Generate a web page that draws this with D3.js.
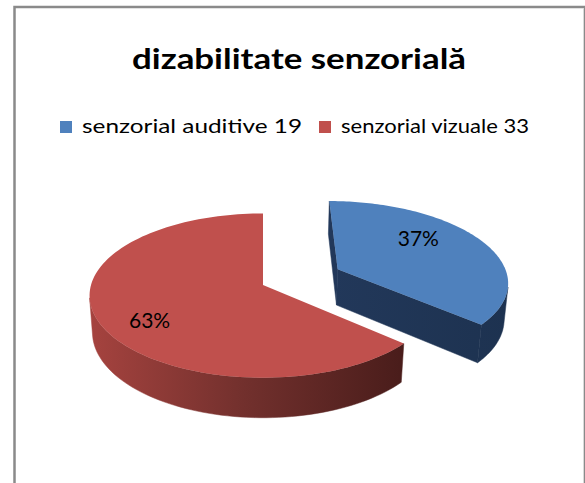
<!DOCTYPE html>
<html>
<head>
<meta charset="utf-8">
<script src="https://cdn.jsdelivr.net/npm/d3@7"></script>
<style>
  html, body { margin: 0; padding: 0; background: #fff; }
  svg { display: block; }
  text { font-family: Lato, "Open Sans", sans-serif; }
</style>
</head>
<body>
<div id="chart"></div>
<script>
// chart data
const title = "dizabilitate senzorială";
const categories = ["senzorial auditive", "senzorial vizuale"];
const values = [19, 33];
const explodeFlags = [true, false];

const colorsTop = ["#4F81BD", "#C0504D"];

const width = 585;
const height = 483;

const svg = d3
	.select("#chart")
	.append("svg")
	.attr("width", width)
	.attr("height", height);

const defs = svg.append("defs");

// red side gradient, light at the left to dark at the right
const redSide = defs
	.append("linearGradient")
	.attr("id", "side1")
	.attr("gradientUnits", "userSpaceOnUse")
	.attr("x1", 88)
	.attr("x2", 400)
	.attr("y1", 0)
	.attr("y2", 0);
redSide.append("stop").attr("offset", 0).attr("stop-color", "#A6433F");
redSide.append("stop").attr("offset", 0.5).attr("stop-color", "#72302D");
redSide.append("stop").attr("offset", 1).attr("stop-color", "#4A1D1B");

const blueSide = defs
	.append("linearGradient")
	.attr("id", "side0")
	.attr("gradientUnits", "userSpaceOnUse")
	.attr("x1", 330)
	.attr("x2", 510)
	.attr("y1", 0)
	.attr("y2", 0);
blueSide.append("stop").attr("offset", 0).attr("stop-color", "#22385A");
blueSide.append("stop").attr("offset", 1).attr("stop-color", "#1D3250");

// chart frame
svg
	.append("rect")
	.attr("x", 14.5)
	.attr("y", 7)
	.attr("width", 570)
	.attr("height", 490)
	.attr("fill", "none")
	.attr("stroke", "#8A8A8A")
	.attr("stroke-width", 2.5);
svg
	.append("line")
	.attr("x1", 583.5)
	.attr("x2", 583.5)
	.attr("y1", 8)
	.attr("y2", height)
	.attr("stroke", "#D9D9D9")
	.attr("stroke-width", 1);

// bit of text above the chart (cut off in the original too)
svg
	.append("text")
	.attr("x", 455)
	.attr("y", -5)
	.attr("font-size", 20)
	.attr("font-weight", "bold")
	.attr("fill", "#000")
	.text("g");

// title
svg
	.append("text")
	.attr("x", 299)
	.attr("y", 69)
	.attr("text-anchor", "middle")
	.attr("font-size", 28)
	.attr("font-weight", "bold")
	.attr("textLength", 334)
	.attr("lengthAdjust", "spacingAndGlyphs")
	.text(title);

// legend
const legendX = [60, 319];
const legendText = [240, 208];
const legend = svg
	.append("g")
	.selectAll("g")
	.data(categories)
	.join("g")
	.attr("transform", (d, i) => `translate(${legendX[i]}, 121)`);
legend
	.append("rect")
	.attr("width", 12)
	.attr("height", 12)
	.attr("fill", (d, i) => colorsTop[i]);
legend
	.append("text")
	.attr("x", 22)
	.attr("y", 12)
	.attr("font-size", 20)
	.attr("fill", "#000")
	.attr("textLength", (d, i) => legendText[i] - 20)
	.attr("lengthAdjust", "spacingAndGlyphs")
	.text((d, i) => `${d} ${values[i]}`);

// 3d pie projection
const cx = 263;
const cy = 285;
const R = 172;
const T = 42;
const D = 1177;
const tilt = (28 * Math.PI) / 180;
const explode = 84;

function project(X, Yh, Z) {
	const u = Yh * Math.cos(tilt) + Z * Math.sin(tilt);
	const w = D + Z * Math.cos(tilt) - Yh * Math.sin(tilt);
	return [cx + (D * X) / w, cy - (D * u) / w];
}

const pie = d3
	.pie()
	.sort(null)
	.value((d) => d)
	.startAngle(0)
	.endAngle(2 * Math.PI);
const arcs = pie(values);
const total = d3.sum(values);
const pct = d3.format(".0%");

const line = d3.line().curve(d3.curveLinearClosed);

function area(pts) {
	let s = 0;
	for (let i = 0; i < pts.length; i++) {
		const a = pts[i];
		const b = pts[(i + 1) % pts.length];
		s += a[0] * b[1] - b[0] * a[1];
	}
	return s / 2;
}

const pieGroup = svg.append("g").attr("class", "pie");

// blue first, red on top
const order = [0, 1];
order.forEach((i) => {
	const a = arcs[i];
	const mid = (a.startAngle + a.endAngle) / 2;
	const ox = explodeFlags[i] ? explode * Math.sin(mid) : 0;
	const oz = explodeFlags[i] ? explode * Math.cos(mid) : 0;
	const pt = (r, th, Yh) =>
		project(ox + r * Math.sin(th), Yh, oz + r * Math.cos(th));

	const steps = 120;
	const angles = d3
		.range(steps + 1)
		.map((k) => a.startAngle + ((a.endAngle - a.startAngle) * k) / steps);

	const g = pieGroup.append("g");

	// radial faces
	[a.startAngle, a.endAngle].forEach((th, j) => {
		let quad = [pt(0, th, 0), pt(R, th, 0), pt(R, th, -T), pt(0, th, -T)];
		// keep winding the same for both faces
		if (j === 1) quad = quad.reverse();
		if (area(quad) < -1) {
			g.append("path")
				.attr("d", line(quad))
				.attr("fill", `url(#side${i})`)
				.attr("stroke", `url(#side${i})`)
				.attr("stroke-width", 0.5);
		}
	});

	// outer side, only the part facing the viewer
	let run = [];
	const runs = [];
	for (let k = 0; k < steps; k++) {
		const q = [
			pt(R, angles[k], 0),
			pt(R, angles[k + 1], 0),
			pt(R, angles[k + 1], -T),
			pt(R, angles[k], -T),
		];
		if (area(q) < 0) {
			run.push(k);
		} else if (run.length) {
			runs.push(run);
			run = [];
		}
	}
	if (run.length) runs.push(run);
	runs.forEach((r) => {
		const ks = r.concat([r[r.length - 1] + 1]);
		const top = ks.map((k) => pt(R, angles[k], 0));
		const bot = ks.map((k) => pt(R, angles[k], -T)).reverse();
		g.append("path")
			.attr("d", line(top.concat(bot)))
			.attr("fill", `url(#side${i})`)
			.attr("stroke", `url(#side${i})`)
			.attr("stroke-width", 0.5);
	});

	// top face
	const topFace = [pt(0, 0, 0)].concat(angles.map((th) => pt(R, th, 0)));
	g.append("path")
		.attr("d", line(topFace))
		.attr("fill", colorsTop[i]);
});

// percentage labels
const labelR = [0.55, 0.7];
const labelLift = [16, -13];
pieGroup
	.selectAll("text.lbl")
	.data(arcs)
	.join("text")
	.attr("class", "lbl")
	.each(function (a, i) {
		const mid = (a.startAngle + a.endAngle) / 2;
		const e = explodeFlags[i] ? explode : 0;
		const r = e + labelR[i] * R;
		const p = project(r * Math.sin(mid), labelLift[i], r * Math.cos(mid));
		d3.select(this).attr("x", p[0]).attr("y", p[1] + 7);
	})
	.attr("text-anchor", "middle")
	.attr("font-size", 21)
	.attr("fill", "#000")
	.text((a) => pct(a.value / total));
</script>
</body>
</html>
